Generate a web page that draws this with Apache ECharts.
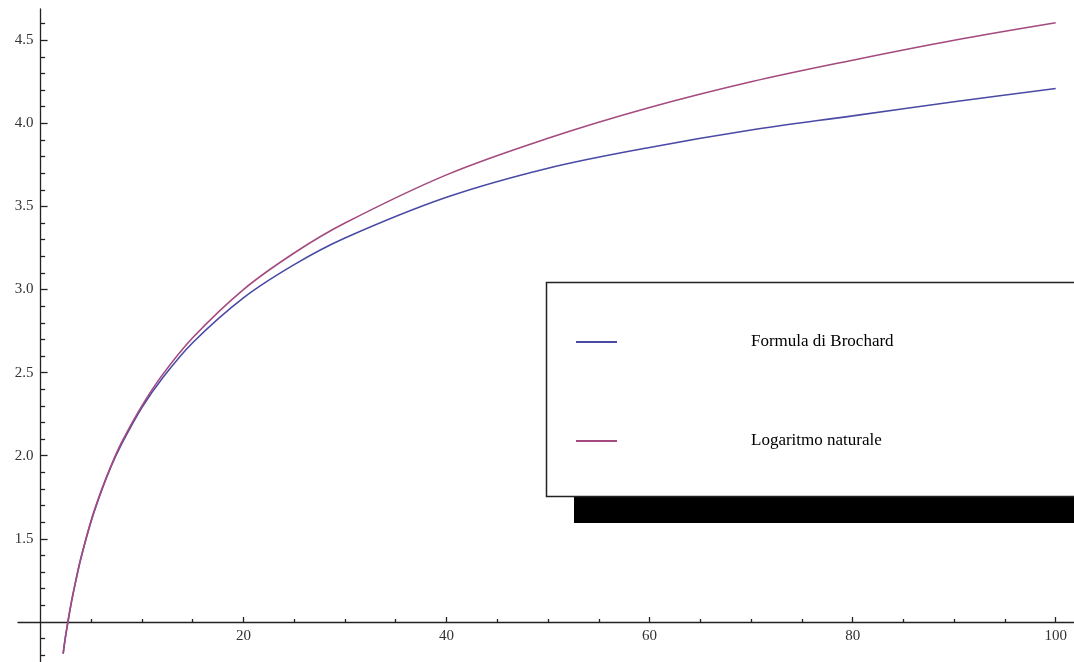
<!DOCTYPE html>
<html>
<head>
<meta charset="utf-8">
<script src="https://cdn.jsdelivr.net/npm/echarts@6/dist/echarts.min.js"></script>
<style>
  html, body { margin: 0; padding: 0; background: #fff; }
  #main { width: 1074px; height: 662px; }
</style>
</head>
<body>
<div id="main"></div>
<script>
// valori
var xValues = [2.25, 2.5, 3, 3.5, 4, 5, 6, 7, 8, 10, 12, 15, 20, 25, 30, 40, 50, 60, 70, 80, 90, 100];
var brochard = [0.81, 0.92, 1.10, 1.25, 1.385, 1.605, 1.785, 1.94, 2.07, 2.29, 2.465, 2.68, 2.95, 3.15, 3.31, 3.555, 3.73, 3.855, 3.96, 4.045, 4.13, 4.21];
var logNaturale = [0.81, 0.92, 1.10, 1.25, 1.385, 1.61, 1.79, 1.945, 2.08, 2.30, 2.485, 2.71, 3.00, 3.22, 3.40, 3.69, 3.91, 4.095, 4.25, 4.38, 4.50, 4.605];

var seriesNames = ['Formula di Brochard', 'Logaritmo naturale'];
var seriesColors = ['#4a4aa6', '#a44a7e'];

// tacche
var xMajorTicks = [20, 40, 60, 80, 100];
var xMinorTicks = [5, 10, 15, 25, 30, 35, 45, 50, 55, 65, 70, 75, 85, 90, 95];
var yMajorTicks = [1.5, 2.0, 2.5, 3.0, 3.5, 4.0, 4.5];
var yMinorTicks = [0.8, 0.9, 1.1, 1.2, 1.3, 1.4, 1.6, 1.7, 1.8, 1.9, 2.1, 2.2, 2.3, 2.4,
  2.6, 2.7, 2.8, 2.9, 3.1, 3.2, 3.3, 3.4, 3.6, 3.7, 3.8, 3.9, 4.1, 4.2, 4.3, 4.4, 4.6];

function pairs(xs, ys) {
  return xs.map(function (x, i) { return [x, ys[i]]; });
}

var chart = echarts.init(document.getElementById('main'));

var axisColor = '#222';
var labelFont = { fontFamily: 'Liberation Serif', fontSize: 15, color: '#333' };

var xRange = { min: -2.2, max: 101.8 };
var yRange = { min: 0.759, max: 4.688 };
// gli assi si incrociano in (0, 1)
var xAxisOffset = -40;
var yAxisOffset = -22.6;

function xAxisBase() {
  return {
    type: 'value', min: xRange.min, max: xRange.max,
    position: 'bottom', offset: xAxisOffset,
    splitLine: { show: false }
  };
}
function yAxisBase() {
  return {
    type: 'value', min: yRange.min, max: yRange.max,
    position: 'left', offset: yAxisOffset,
    splitLine: { show: false }
  };
}

chart.setOption({
  animation: false,
  backgroundColor: '#fff',
  grid: { left: 18, right: 0, top: 9, bottom: 0, containLabel: false, outerBoundsMode: 'none' },
  xAxis: [
    Object.assign(xAxisBase(), {
      axisLine: { onZero: false, lineStyle: { color: axisColor, width: 1.3 } },
      axisTick: { inside: true, length: 5, customValues: xMajorTicks, lineStyle: { color: axisColor, width: 1.3 } },
      axisLabel: Object.assign({ margin: 7, customValues: xMajorTicks }, labelFont)
    }),
    Object.assign(xAxisBase(), {
      axisLine: { show: false, onZero: false },
      axisTick: { inside: true, length: 3, customValues: xMinorTicks, lineStyle: { color: axisColor, width: 1.3 } },
      axisLabel: { show: false }
    })
  ],
  yAxis: [
    Object.assign(yAxisBase(), {
      axisLine: { onZero: false, lineStyle: { color: axisColor, width: 1.3 } },
      axisTick: { inside: true, length: 7, customValues: yMajorTicks, lineStyle: { color: axisColor, width: 1.3 } },
      axisLabel: Object.assign({
        margin: 7, customValues: yMajorTicks,
        formatter: function (v) { return v.toFixed(1); }
      }, labelFont)
    }),
    Object.assign(yAxisBase(), {
      axisLine: { show: false, onZero: false },
      axisTick: { inside: true, length: 4.5, customValues: yMinorTicks, lineStyle: { color: axisColor, width: 1.3 } },
      axisLabel: { show: false }
    })
  ],
  // riquadro della legenda con ombra
  graphic: [
    { type: 'rect', z: 5, shape: { x: 574, y: 308, width: 600, height: 215 }, style: { fill: '#000' } },
    { type: 'rect', z: 6, shape: { x: 546.5, y: 282.5, width: 600, height: 214 },
      style: { fill: '#fff', stroke: '#222', lineWidth: 1.5 } }
  ],
  legend: {
    data: seriesNames,
    z: 10,
    orient: 'vertical',
    left: 576, top: 331.5,
    padding: 0,
    icon: 'path://M0,0H41V2H0Z',
    itemWidth: 41, itemHeight: 17, itemGap: 78,
    textStyle: {
      fontFamily: 'Liberation Serif', fontSize: 17, color: '#000',
      lineHeight: 17, padding: [4, 0, 0, 129]
    }
  },
  series: seriesNames.map(function (name, i) {
    return {
      name: name, type: 'line',
      data: pairs(xValues, i === 0 ? brochard : logNaturale),
      smooth: 0.35, symbol: 'none',
      lineStyle: { color: seriesColors[i], width: 1.6 },
      itemStyle: { color: seriesColors[i] }
    };
  })
});
</script>
</body>
</html>
